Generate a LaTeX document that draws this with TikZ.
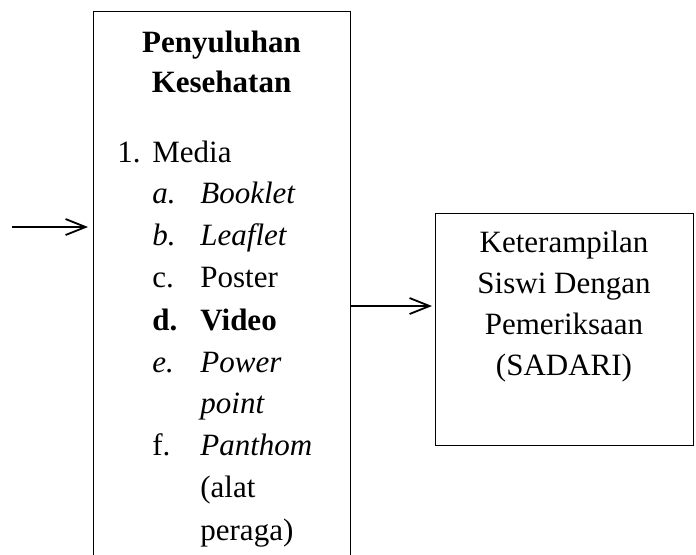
\documentclass[tikz,border=0pt]{standalone}
\usepackage{fontspec}
\setmainfont{Liberation Serif}
\usetikzlibrary{arrows.meta}
\begin{document}
\begin{tikzpicture}[x=0.5pt,y=-0.5pt,
  box/.style={draw,line width=0.6pt,inner sep=0pt,anchor=north west},
  arr/.style={line width=0.9pt,-{Straight Barb[length=10pt,width=8pt]}},
  txt/.style={font=\fontsize{15.5}{18}\selectfont,inner sep=0pt},
  lt/.style={txt,anchor=base west},
  ct/.style={txt,anchor=base}]
\useasboundingbox (0,0) rectangle (696,554);
\clip (0,0) rectangle (696,554);
% boxes
\node[box,minimum width=128.5pt,minimum height=290pt] (pk) at (93,11) {};
\node[box,minimum width=129pt,minimum height=116pt] (ks) at (435,213) {};
% left box text
\node[ct] (t1) at (221.5,52) {\bfseries Penyuluhan};
\node[ct] (t2) at (221.5,92) {\bfseries Kesehatan};
\node[lt] (n1) at (117,162) {1.};
\node[lt] (m1) at (152,162) {Media};
\node[lt] (la) at (152,203) {\itshape a.};
\node[lt] (ia) at (200,203) {\itshape Booklet};
\node[lt] (lb) at (152,245) {\itshape b.};
\node[lt] (ib) at (200,245) {\itshape Leaflet};
\node[lt] (lc) at (152,287) {c.};
\node[lt] (ic) at (200,287) {Poster};
\node[lt] (ld) at (152,330) {\bfseries d.};
\node[lt] (id) at (200,330) {\bfseries Video};
\node[lt] (le) at (152,372) {\itshape e.};
\node[lt] (ie) at (200,372) {\itshape Power};
\node[lt] (ie2) at (200,413) {\itshape point};
\node[lt] (lf) at (152,455) {f.};
\node[lt] (if) at (200,455) {\itshape Panthom};
\node[lt] (if2) at (200,497) {(alat};
\node[lt] (if3) at (200,540) {peraga)};
% right box text
\node[ct] (r1) at (564,252) {Keterampilan};
\node[ct] (r2) at (564,293) {Siswi Dengan};
\node[ct] (r3) at (564,334) {Pemeriksaan};
\node[ct] (r4) at (564,375) {(SADARI)};
% arrows
\coordinate (s1) at (12,227);
\coordinate (m) at (0,306);
\draw[arr,shorten >=2.5pt] (s1) -- (s1 -| pk.west);
\draw[arr,shorten >=1.5pt] (pk.east |- m) -- (ks.west |- m);
\end{tikzpicture}
\end{document}
